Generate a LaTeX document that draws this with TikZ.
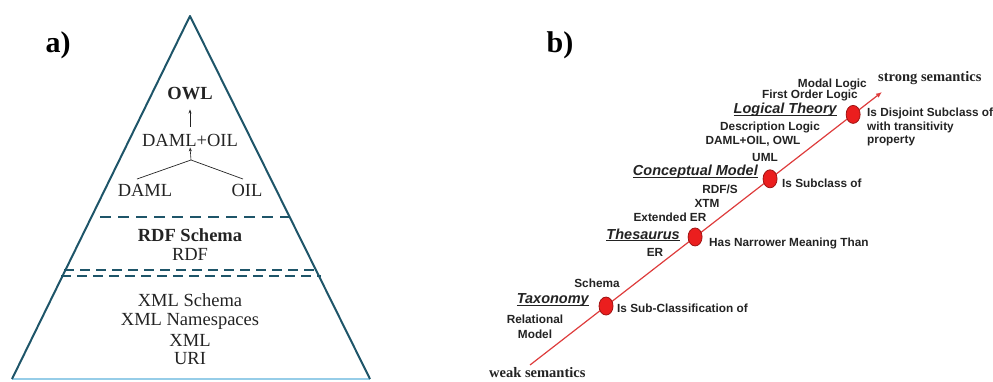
\documentclass[tikz,border=0pt]{standalone}
\usepackage{fontspec}
\setmainfont{Liberation Serif}
\setsansfont{Liberation Sans}
\usetikzlibrary{shapes.geometric,arrows.meta}
\definecolor{pyr}{RGB}{30,85,105}
\definecolor{basecol}{RGB}{150,205,232}
\definecolor{sem}{RGB}{222,60,60}
\definecolor{dot}{RGB}{235,30,30}
\definecolor{dotedge}{RGB}{160,20,20}
\definecolor{ink}{RGB}{35,35,35}
% underline drawn close to the baseline, through the descenders
\newcommand{\lvlul}[1]{\setbox0\hbox{#1}\rlap{\rule[-2.2pt]{\wd0}{1.1pt}}\box0}
\begin{document}
\begin{tikzpicture}[x=1pt,y=-1pt,
  serif/.style={font=\fontsize{18.5}{20}\selectfont, text=ink, inner sep=0pt},
  serifb/.style={serif, font=\fontsize{18.5}{20}\selectfont\bfseries},
  panel/.style={font=\fontsize{30}{32}\selectfont\bfseries, text=black, inner sep=0pt},
  pole/.style={font=\fontsize{14.5}{16}\selectfont\bfseries, text=ink, inner sep=0pt},
  lbl/.style={font=\sffamily\bfseries\fontsize{11.8}{13}\selectfont, text=ink, inner sep=0pt},
  level/.style={font=\sffamily\bfseries\itshape\fontsize{14.5}{16}\selectfont, text=ink, inner sep=0pt},
  dotmark/.style={ellipse, draw=dotedge, fill=dot, line width=0.8pt, minimum width=14pt, minimum height=18pt, inner sep=0pt},
  sep/.style={pyr, line width=2.4pt},
  tiny arrow/.style={ink, line width=0.6pt, -{Stealth[length=4pt,width=3pt]}}
]
\path[use as bounding box] (0,0) rectangle (993,381);

% ---------- a) layered pyramid ----------
\node[panel] (pa) at (58,45) {a)};
\coordinate (apex) at (190,16);
\coordinate (bl) at (12,379);
\coordinate (br) at (370,379);
\draw[basecol, line width=1.6pt] (bl) -- (br);
\draw[pyr, line width=2pt, line join=round] (bl) -- (apex) -- (br);

% layer separators
\coordinate (s1l) at (100,217);
\coordinate (s1r) at (289,217);
\draw[sep, dash pattern=on 11pt off 7pt] (s1l) -- (s1r);
\coordinate (s2l) at (64,270);
\coordinate (s2r) at (318,270);
\coordinate (s3l) at (61,276);
\coordinate (s3r) at (321,276);
\draw[sep, line width=2pt, dash pattern=on 9.5pt off 6.5pt] (s2l) -- (s2r);
\draw[sep, line width=2pt, dash pattern=on 9.5pt off 6.5pt] (s3l) -- (s3r);

% ontology languages
\node[serifb] (owl) at (190,94) {OWL};
\node[serif] (dao) at (190,140) {DAML+OIL};
\node[serif] (daml) at (145,190) {DAML};
\node[serif] (oil) at (247,190) {OIL};
\draw[tiny arrow, shorten <=7pt, shorten >=9pt] (dao.north) -- (owl.south);
\coordinate (fork) at (191,160);
\coordinate (dl) at (137,179);
\coordinate (ol) at (243,179);
\draw[ink, line width=0.7pt] (dl) -- (fork) -- (ol);
\draw[tiny arrow, shorten >=1pt] (fork) -- (dao.south);

% RDF layer
\node[serifb] (rdfs) at (190,235) {RDF Schema};
\node[serif] (rdf) at (190,254) {RDF};

% XML layer
\node[serif] (xs) at (190,300) {XML Schema};
\node[serif] (xn) at (190,321) {XML Namespaces};
\node[serif] (xml) at (190,340) {XML};
\node[serif] (uri) at (190,359) {URI};

% ---------- b) semantic spectrum ----------
\node[panel] (pb) at (560,45) {b)};
\coordinate (ws) at (530,365);
\coordinate (ss) at (882,92);
\draw[sem, line width=1.2pt, -{Latex[length=6pt,width=5pt]}] (ws) -- (ss);
\path (ws) -- (ss)
  node[dotmark, pos=0.216] (tax) {}
  node[dotmark, pos=0.469] (the) {}
  node[dotmark, pos=0.682] (con) {}
  node[dotmark, pos=0.918] (log) {};

\node[pole, anchor=west] (strong) at (878,78) {strong semantics};
\node[pole, anchor=west] (weak) at (489,373) {weak semantics};

% logical theory
\node[lbl, anchor=east] (modal) at (867,84) {Modal Logic};
\node[lbl, anchor=east] (fol) at (858,95) {First Order Logic};
\node[level, anchor=east] (lt) at (837,110) {\lvlul{Logical Theory}};
\node[lbl, anchor=west] (ltr1) at (867,113) {Is Disjoint Subclass of};
\node[lbl, anchor=west] (ltr2) at (867,127) {with transitivity};
\node[lbl, anchor=west] (ltr3) at (867,141) {property};
\node[lbl] (dlog) at (770,127) {Description Logic};
\node[lbl] (dowl) at (753,141) {DAML+OIL, OWL};
\node[lbl] (uml) at (765,157) {UML};

% conceptual model
\node[level, anchor=east] (cm) at (758,172) {\lvlul{Conceptual Model}};
\node[lbl, anchor=west] (cmr) at (782,183) {Is Subclass of};
\node[lbl] (rdfsb) at (720,189) {RDF/S};
\node[lbl] (xtm) at (707,203) {XTM};
\node[lbl] (eer) at (670,217) {Extended ER};

% thesaurus
\node[level, anchor=east] (th) at (680,235) {\lvlul{Thesaurus}};
\node[lbl, anchor=west] (thr) at (709,243) {Has Narrower Meaning Than};
\node[lbl] (er) at (655,252) {ER};

% taxonomy
\node[lbl] (sch) at (597,283) {Schema};
\node[level, anchor=east] (tx) at (589,300) {\lvlul{Taxonomy}};
\node[lbl, anchor=west] (txr) at (617,308) {Is Sub-Classification of};
\node[lbl] (rel) at (535,319) {Relational};
\node[lbl] (mod) at (535,334) {Model};
\end{tikzpicture}
\end{document}
